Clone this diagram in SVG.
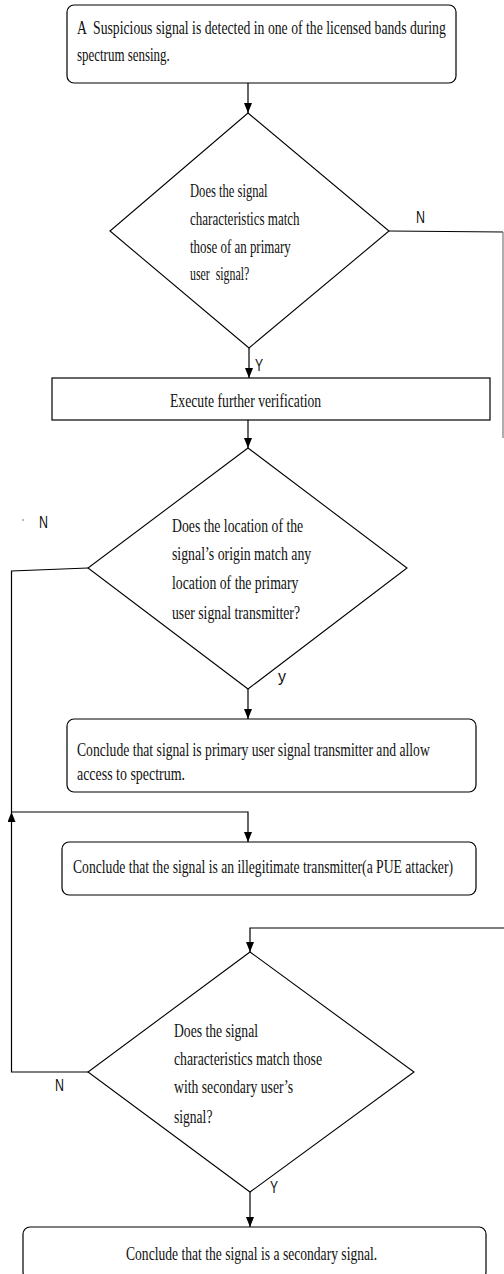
<svg xmlns="http://www.w3.org/2000/svg" width="504" height="1274" viewBox="0 0 504 1274">
<style>
.box{fill:#fff;stroke:#000;stroke-width:1.2}
.dia{fill:#fff;stroke:#000;stroke-width:1.1}
.t{font-family:"Liberation Serif","Times New Roman",serif;font-size:19px;fill:#111;white-space:pre}
.l{font-family:"Liberation Sans",Arial,sans-serif;font-size:16px;fill:#111}
.c{fill:none;stroke:#000;stroke-width:1.2}
</style>
<defs>
<marker id="ah" markerUnits="userSpaceOnUse" markerWidth="10" markerHeight="10" refX="10" refY="4" orient="auto">
<path d="M0,0 L10,4 L0,8 z" fill="#000"/>
</marker>
</defs>
<rect width="504" height="1274" fill="#fff"/>
<g id="connectors">
<path class="c" d="M248,83 V113" marker-end="url(#ah)"/>
<path class="c" d="M389,231 L503,232"/>
<path d="M503,232 V438" fill="none" stroke="#777" stroke-width="1.2"/>
<path class="c" d="M249,348 V378" marker-end="url(#ah)"/>
<path class="c" d="M248,420 V448" marker-end="url(#ah)"/>
<path class="c" d="M88,568 L11.5,571 V812"/>
<path class="c" d="M248,689 V719" marker-end="url(#ah)"/>
<path class="c" d="M88,1072 H11.5 V812" marker-end="url(#ah)"/>
<path class="c" d="M11.5,812 H248 V842" marker-end="url(#ah)"/>
<path class="c" d="M504,928 H250 V952" marker-end="url(#ah)"/>
<path class="c" d="M250,1192 V1227" marker-end="url(#ah)"/>
<circle cx="23" cy="520" r="0.8" fill="#666"/>
<text class="l" x="416" y="223" textLength="9" lengthAdjust="spacingAndGlyphs">N</text>
<text class="l" x="255" y="371" textLength="8" lengthAdjust="spacingAndGlyphs">Y</text>
<text class="l" x="39" y="528" textLength="9" lengthAdjust="spacingAndGlyphs">N</text>
<text class="l" x="278" y="682" textLength="8" lengthAdjust="spacingAndGlyphs">y</text>
<text class="l" x="55" y="1091" textLength="9" lengthAdjust="spacingAndGlyphs">N</text>
<text class="l" x="270" y="1193" textLength="8" lengthAdjust="spacingAndGlyphs">Y</text>
</g>
<g id="start">
<rect class="box" x="67" y="5" width="389" height="78" rx="7"/>
<text class="t" transform="translate(77,34) scale(0.8,1)" textLength="461" lengthAdjust="spacingAndGlyphs">A  Suspicious signal is detected in one of the licensed bands during</text>
<text class="t" transform="translate(77,61) scale(0.8,1)" textLength="116" lengthAdjust="spacingAndGlyphs">spectrum sensing.</text>
</g>
<g id="decision1">
<polygon class="dia" points="248,113 389,231 249,348 110,231"/>
<text class="t" transform="translate(190,197) scale(0.8,1)" textLength="97" lengthAdjust="spacingAndGlyphs">Does the signal</text>
<text class="t" transform="translate(190,225) scale(0.8,1)" textLength="137" lengthAdjust="spacingAndGlyphs">characteristics match</text>
<text class="t" transform="translate(190,253) scale(0.8,1)" textLength="126" lengthAdjust="spacingAndGlyphs">those of an primary</text>
<text class="t" transform="translate(190,280) scale(0.8,1)" textLength="74" lengthAdjust="spacingAndGlyphs">user  signal?</text>
</g>
<g id="verify">
<rect class="box" x="52" y="378" width="438" height="42"/>
<text class="t" transform="translate(170,407) scale(0.8,1)" textLength="189" lengthAdjust="spacingAndGlyphs">Execute further verification</text>
</g>
<g id="decision2">
<polygon class="dia" points="248,448 407,568 248,689 88,568"/>
<text class="t" transform="translate(172,532) scale(0.8,1)" textLength="164" lengthAdjust="spacingAndGlyphs">Does the location of the</text>
<text class="t" transform="translate(172,560) scale(0.8,1)" textLength="174" lengthAdjust="spacingAndGlyphs">signal’s origin match any</text>
<text class="t" transform="translate(172,589) scale(0.8,1)" textLength="158" lengthAdjust="spacingAndGlyphs">location of the primary</text>
<text class="t" transform="translate(172,619) scale(0.8,1)" textLength="160" lengthAdjust="spacingAndGlyphs">user signal transmitter?</text>
</g>
<g id="primary">
<rect class="box" x="67" y="719" width="409" height="73" rx="7"/>
<text class="t" transform="translate(77,756) scale(0.8,1)" textLength="441" lengthAdjust="spacingAndGlyphs">Conclude that signal is primary user signal transmitter and allow</text>
<text class="t" transform="translate(77,780) scale(0.8,1)" textLength="135" lengthAdjust="spacingAndGlyphs">access to spectrum.</text>
</g>
<g id="attacker">
<rect class="box" x="62" y="842" width="414" height="53" rx="7"/>
<text class="t" transform="translate(73,873) scale(0.8,1)" textLength="475" lengthAdjust="spacingAndGlyphs">Conclude that the signal is an illegitimate transmitter(a PUE attacker)</text>
</g>
<g id="decision3">
<polygon class="dia" points="250,952 414,1072 250,1192 88,1072"/>
<text class="t" transform="translate(174,1037) scale(0.8,1)" textLength="105" lengthAdjust="spacingAndGlyphs">Does the signal</text>
<text class="t" transform="translate(174,1065) scale(0.8,1)" textLength="185" lengthAdjust="spacingAndGlyphs">characteristics match those</text>
<text class="t" transform="translate(174,1093) scale(0.8,1)" textLength="149" lengthAdjust="spacingAndGlyphs">with secondary user’s</text>
<text class="t" transform="translate(174,1123) scale(0.8,1)" textLength="48" lengthAdjust="spacingAndGlyphs">signal?</text>
</g>
<g id="secondary">
<rect class="box" x="23" y="1227" width="463" height="52" rx="7"/>
<text class="t" transform="translate(126,1260) scale(0.8,1)" textLength="314" lengthAdjust="spacingAndGlyphs">Conclude that the signal is a secondary signal.</text>
</g>
</svg>
